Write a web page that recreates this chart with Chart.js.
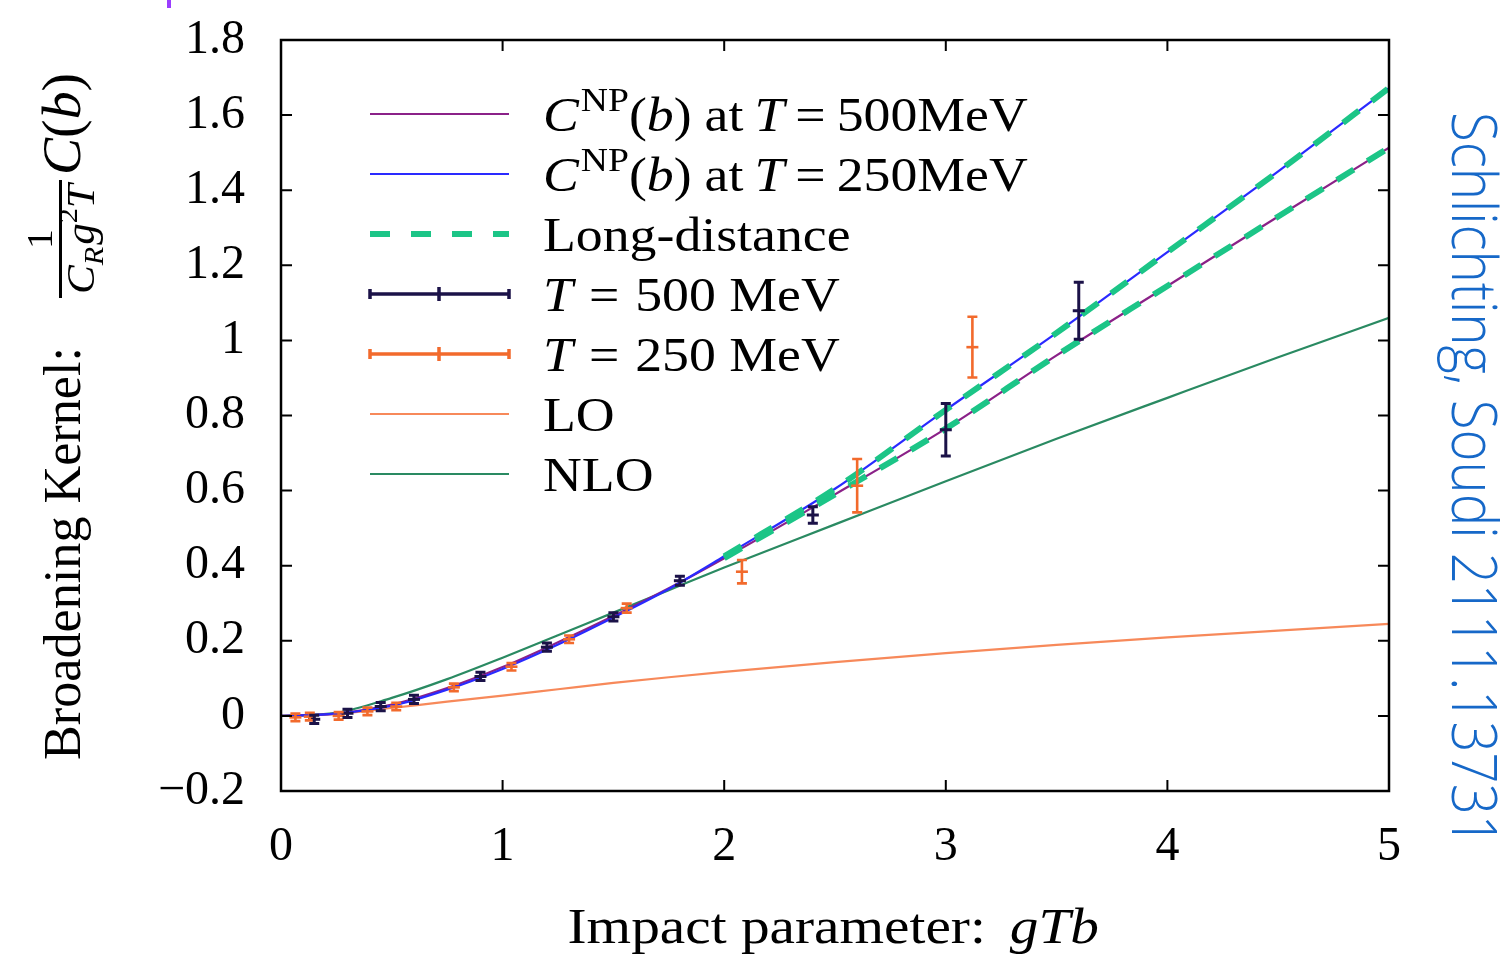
<!DOCTYPE html>
<html>
<head>
<meta charset="utf-8">
<script src="https://cdn.jsdelivr.net/npm/chart.js@4.4.1/dist/chart.umd.min.js"></script>
<style>
  html, body { margin: 0; padding: 0; background: #fff; }
  #wrap { width: 1501px; height: 954px; position: relative; }
</style>
</head>
<body>
<div id="wrap"><canvas id="chart" width="1501" height="954"></canvas></div>
<script>
// Smooth curves, sampled along impact parameter gTb
const bCurve   = [0, 0.25, 0.5, 0.75, 1, 1.25, 1.5, 1.75, 2, 2.5, 3, 3.5, 4, 4.5, 5];
const cnp500   = [0, 0.006, 0.03, 0.074, 0.13, 0.196, 0.266, 0.34, 0.42, 0.59, 0.765, 0.96, 1.145, 1.33, 1.513];
const cnp250   = [0, 0.006, 0.027, 0.07, 0.125, 0.19, 0.262, 0.338, 0.425, 0.605, 0.815, 1.02, 1.235, 1.45, 1.672];
const loCurve  = [0, 0.005, 0.021, 0.038, 0.054, 0.071, 0.088, 0.103, 0.117, 0.143, 0.167, 0.189, 0.209, 0.227, 0.245];
const nloCurve = [0, 0.008, 0.048, 0.098, 0.155, 0.215, 0.275, 0.335, 0.395, 0.51, 0.625, 0.738, 0.847, 0.955, 1.06];

// Long-distance behaviour (starts at gTb = 2)
const bLong     = [2, 2.5, 3, 3.5, 4, 4.5, 5];
const longUpper = [0.425, 0.605, 0.815, 1.02, 1.235, 1.45, 1.672];
const longLower = [0.42, 0.59, 0.765, 0.96, 1.145, 1.33, 1.513];

// Lattice points with error bars
const b500 = [0.15, 0.3, 0.45, 0.6, 0.9, 1.2, 1.5, 1.8, 2.4, 3.0, 3.6];
const v500 = [-0.009, 0.007, 0.025, 0.044, 0.105, 0.183, 0.264, 0.36, 0.535, 0.762, 1.079];
const e500 = [0.011, 0.011, 0.011, 0.011, 0.011, 0.011, 0.011, 0.012, 0.022, 0.07, 0.076];

const b250 = [0.065, 0.13, 0.26, 0.39, 0.52, 0.78, 1.04, 1.3, 1.56, 2.08, 2.6, 3.12];
const v250 = [-0.004, -0.002, 0.0, 0.012, 0.025, 0.076, 0.131, 0.204, 0.287, 0.384, 0.613, 0.982];
const e250 = [0.01, 0.01, 0.01, 0.01, 0.01, 0.01, 0.01, 0.01, 0.012, 0.031, 0.071, 0.081];

const xTickLabels = ['0', '1', '2', '3', '4', '5'];
const yTickLabels = ['\u22120.2', '0', '0.2', '0.4', '0.6', '0.8', '1', '1.2', '1.4', '1.6', '1.8'];

const COL = {
    c500: '#8b2188',
    c250: '#2a2aff',
    longd: '#1cc587',
    t500: '#1b1248',
    t250: '#f26a2c',
    lo: '#f7895a',
    nlo: '#2a8a62'
};

const SERIF = '"Liberation Serif", "DejaVu Serif", serif';
const STRETCH = 1.12; // Computer Modern runs wider than Times

function pts(xs, ys) {
    return xs.map((x, i) => ({ x: x, y: ys[i] }));
}

function curve(label, xs, ys, color, width, order, dash) {
    return {
        label: label,
        data: pts(xs, ys),
        showLine: true,
        borderColor: color,
        borderWidth: width,
        borderDash: dash || [],
        pointRadius: 0,
        cubicInterpolationMode: 'monotone',
        order: order
    };
}

// Draw a list of text runs (italic, superscript, subscript) with a horizontal stretch
function drawRuns(ctx, runs, x, y, size, sx, measureOnly) {
    let cx = x;
    runs.forEach(r => {
        const s = (r.sup || r.sub) ? size * 0.7 : size;
        ctx.font = (r.it ? 'italic ' : '') + s + 'px ' + SERIF;
        const dy = r.sup ? -size * 0.42 : r.sub ? size * 0.22 : 0;
        if (!measureOnly) {
            ctx.save();
            ctx.translate(cx, y + dy);
            ctx.scale(sx, 1);
            ctx.fillText(r.t, 0, 0);
            ctx.restore();
        }
        cx += ctx.measureText(r.t).width * sx + (r.gap || 0);
    });
    return cx - x;
}

// Fit a run list into a given length along the baseline
function drawRunsFit(ctx, runs, x, y, size, len) {
    const w = drawRuns(ctx, runs, 0, 0, size, 1, true);
    drawRuns(ctx, runs, x, y, size, len / w);
}

const legendRows = [
    { kind: 'line', color: COL.c500, runs: [{ t: 'C', it: 1, gap: 2 }, { t: 'NP', sup: 1 }, { t: '(' }, { t: 'b', it: 1 }, { t: ')', gap: 13 }, { t: 'at', gap: 11 }, { t: 'T', it: 1, gap: 11 }, { t: '=', gap: 11 }, { t: '500MeV' }] },
    { kind: 'line', color: COL.c250, runs: [{ t: 'C', it: 1, gap: 2 }, { t: 'NP', sup: 1 }, { t: '(' }, { t: 'b', it: 1 }, { t: ')', gap: 13 }, { t: 'at', gap: 11 }, { t: 'T', it: 1, gap: 11 }, { t: '=', gap: 11 }, { t: '250MeV' }] },
    { kind: 'dash', color: COL.longd, runs: [{ t: 'Long-distance' }] },
    { kind: 'err', color: COL.t500, runs: [{ t: 'T', it: 1, gap: 16 }, { t: '=', gap: 16 }, { t: '500 MeV' }] },
    { kind: 'err', color: COL.t250, runs: [{ t: 'T', it: 1, gap: 16 }, { t: '=', gap: 16 }, { t: '250 MeV' }] },
    { kind: 'line', color: COL.lo, runs: [{ t: 'LO' }] },
    { kind: 'line', color: COL.nlo, runs: [{ t: 'NLO' }] }
];

function drawErrorBars(ctx, xs, vs, es, xScale, yScale, color, lw) {
    ctx.save();
    ctx.strokeStyle = color;
    ctx.lineWidth = lw;
    xs.forEach((b, i) => {
        const px = xScale.getPixelForValue(b);
        const lo = yScale.getPixelForValue(vs[i] - es[i]);
        const hi = yScale.getPixelForValue(vs[i] + es[i]);
        ctx.beginPath();
        ctx.moveTo(px, lo); ctx.lineTo(px, hi);
        ctx.moveTo(px - 5, lo); ctx.lineTo(px + 5, lo);
        ctx.moveTo(px - 5, hi); ctx.lineTo(px + 5, hi);
        ctx.stroke();
    });
    ctx.restore();
}

const decorations = {
    id: 'decorations',
    afterDatasetsDraw(chart) {
        const { ctx, scales: { x, y } } = chart;
        drawErrorBars(ctx, b250, v250, e250, x, y, COL.t250, 2.6);
        drawErrorBars(ctx, b500, v500, e500, x, y, COL.t500, 3);
    },
    afterDraw(chart) {
        const { ctx, chartArea: a, scales: { x, y } } = chart;
        ctx.save();

        // frame with inward ticks on all four sides
        ctx.strokeStyle = '#000';
        ctx.lineWidth = 2.5;
        ctx.strokeRect(a.left, a.top, a.right - a.left, a.bottom - a.top);
        ctx.lineWidth = 2;
        ctx.beginPath();
        y.ticks.forEach(t => {
            const py = y.getPixelForValue(t.value);
            ctx.moveTo(a.left, py); ctx.lineTo(a.left + 11, py);
            ctx.moveTo(a.right, py); ctx.lineTo(a.right - 11, py);
        });
        x.ticks.forEach(t => {
            const px = x.getPixelForValue(t.value);
            ctx.moveTo(px, a.bottom); ctx.lineTo(px, a.bottom - 11);
            ctx.moveTo(px, a.top); ctx.lineTo(px, a.top + 11);
        });
        ctx.stroke();

        // legend
        ctx.fillStyle = '#000';
        ctx.textBaseline = 'alphabetic';
        const lx0 = 370, lx1 = 509, tx = 543;
        legendRows.forEach((row, i) => {
            const ly = 114 + i * 60;
            ctx.strokeStyle = row.color;
            ctx.beginPath();
            if (row.kind === 'line') {
                ctx.lineWidth = 2.2;
                ctx.setLineDash([]);
                ctx.moveTo(lx0, ly); ctx.lineTo(lx1, ly);
            } else if (row.kind === 'dash') {
                ctx.lineWidth = 6;
                ctx.setLineDash([20, 21]);
                ctx.moveTo(lx0, ly); ctx.lineTo(lx1, ly);
            } else {
                ctx.lineWidth = 3.5;
                ctx.setLineDash([]);
                ctx.moveTo(lx0, ly); ctx.lineTo(lx1, ly);
                ctx.moveTo(lx0, ly - 5); ctx.lineTo(lx0, ly + 5);
                ctx.moveTo(lx1, ly - 5); ctx.lineTo(lx1, ly + 5);
                ctx.moveTo(439, ly - 7); ctx.lineTo(439, ly + 7);
            }
            ctx.stroke();
            ctx.setLineDash([]);
            drawRuns(ctx, row.runs, tx, ly + 17, 48, STRETCH);
        });

        // x axis title, stretched to the reference width
        const xRuns = [{ t: 'Impact parameter:', gap: 24 }, { t: 'gTb', it: 1 }];
        drawRunsFit(ctx, xRuns, (a.left + a.right) / 2 - 535 / 2, 943, 50, 535);

        // y axis title, rotated (distances measured upward from y = 760)
        ctx.save();
        ctx.translate(80, 760);
        ctx.rotate(-Math.PI / 2);
        drawRunsFit(ctx, [{ t: 'Broadening Kernel:' }], 0, 0, 52, 413);
        const fx = 462, barW = 118;
        ctx.fillRect(fx, -21, barW, 3);
        const den = [{ t: 'C', it: 1 }, { t: 'R', it: 1, sub: 1, gap: 2 }, { t: 'g', it: 1 }, { t: '2', sup: 1 }, { t: 'T', it: 1 }];
        drawRunsFit(ctx, den, fx + 4, 14, 40, barW - 8);
        const nw = drawRuns(ctx, [{ t: '1' }], 0, 0, 36, 1.1, true);
        drawRuns(ctx, [{ t: '1' }], fx + (barW - nw) / 2, -28, 36, 1.1);
        drawRunsFit(ctx, [{ t: 'C', it: 1 }, { t: '(' }, { t: 'b', it: 1 }, { t: ')' }], 585, 0, 54, 102);
        ctx.restore();

        // side note, rotated clockwise
        ctx.save();
        ctx.translate(1452, 112);
        ctx.rotate(Math.PI / 2);
        ctx.fillStyle = '#1668c8';
        ctx.font = '300 62px "Open Sans", Lato, sans-serif';
        const note = 'Schlichting, Soudi 2111.13731';
        const nwid = ctx.measureText(note).width;
        ctx.scale(734 / nwid, 1);
        ctx.fillText(note, 0, 0);
        ctx.restore();

        // small purple mark at the top edge
        ctx.fillStyle = '#9b3dff';
        ctx.fillRect(167, 0, 4, 8);

        ctx.restore();
    }
};

const tickFont = { family: SERIF, size: 48 };

new Chart(document.getElementById('chart'), {
    type: 'scatter',
    data: {
        datasets: [
            {
                label: 'T = 500 MeV',
                data: pts(b500, v500),
                pointStyle: 'line',
                pointRadius: 6,
                borderColor: COL.t500,
                backgroundColor: COL.t500,
                pointBorderWidth: 3,
                order: 1
            },
            {
                label: 'T = 250 MeV',
                data: pts(b250, v250),
                pointStyle: 'line',
                pointRadius: 6,
                borderColor: COL.t250,
                backgroundColor: COL.t250,
                pointBorderWidth: 2.6,
                order: 2
            },
            curve('Long-distance upper', bLong, longUpper, COL.longd, 6, 3, [20, 16]),
            curve('Long-distance lower', bLong, longLower, COL.longd, 6, 4, [20, 16]),
            curve('CNP(b) at T = 250MeV', bCurve, cnp250, COL.c250, 2.2, 5),
            curve('CNP(b) at T = 500MeV', bCurve, cnp500, COL.c500, 2.2, 6),
            curve('NLO', bCurve, nloCurve, COL.nlo, 2.2, 7),
            curve('LO', bCurve, loCurve, COL.lo, 2.2, 8)
        ]
    },
    options: {
        responsive: false,
        animation: false,
        devicePixelRatio: 1,
        layout: { padding: { top: 40, right: 112, left: 0, bottom: 0 } },
        plugins: {
            legend: { display: false },
            tooltip: { enabled: false }
        },
        scales: {
            x: {
                type: 'linear',
                min: 0,
                max: 5,
                grid: { display: false, drawTicks: false },
                border: { display: false },
                ticks: {
                    stepSize: 1,
                    padding: 28,
                    maxRotation: 0,
                    autoSkip: false,
                    color: '#000',
                    font: tickFont,
                    callback: v => xTickLabels[Math.round(v)]
                },
                afterFit: s => { s.height = 163; s.paddingLeft = 0; s.paddingRight = 0; }
            },
            y: {
                type: 'linear',
                min: -0.2,
                max: 1.8,
                grid: { display: false, drawTicks: false },
                border: { display: false },
                ticks: {
                    stepSize: 0.2,
                    padding: 36,
                    autoSkip: false,
                    color: '#000',
                    font: tickFont,
                    callback: v => yTickLabels[Math.round((v + 0.2) / 0.2)]
                },
                afterFit: s => { s.width = 281; s.paddingTop = 0; s.paddingBottom = 0; }
            }
        }
    },
    plugins: [decorations]
});
</script>
</body>
</html>
